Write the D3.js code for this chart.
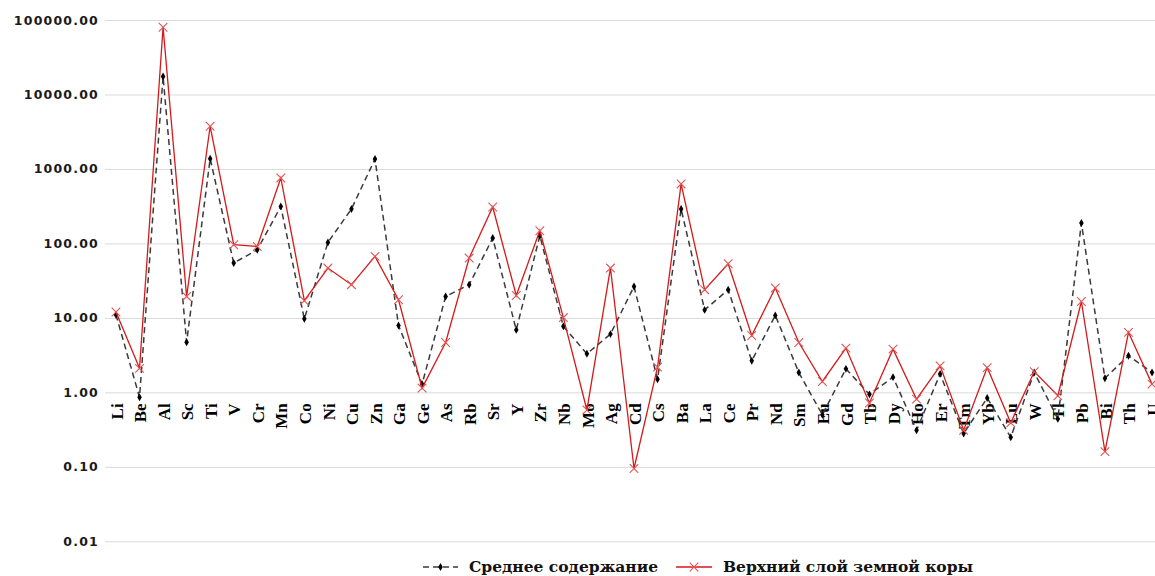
<!DOCTYPE html>
<html>
<head>
<meta charset="utf-8">
<script src="https://cdn.jsdelivr.net/npm/d3@7"></script>
<style>
  html, body { margin: 0; padding: 0; background: #fff; }
  svg { display: block; }
</style>
</head>
<body>
<svg id="chart" width="1155" height="576"></svg>
<script>
// Elements along the category axis
const elements = ["Li","Be","Al","Sc","Ti","V","Cr","Mn","Co","Ni","Cu","Zn","Ga","Ge","As","Rb","Sr","Y","Zr","Nb",
  "Mo","Ag","Cd","Cs","Ba","La","Ce","Pr","Nd","Sm","Eu","Gd","Tb","Dy","Ho","Er","Tm","Yb","Lu","W","Tl","Pb","Bi","Th","U"];

// Среднее содержание (mean content)
const meanContent = [11, 0.86, 17400, 4.7, 1375, 54.5, 82, 314, 9.7, 103, 290, 1360, 7.9, 1.29, 19.4, 27.9, 118, 6.9, 127, 7.7,
  3.3, 6.06, 26.4, 1.5, 290, 12.8, 23.9, 2.65, 10.8, 1.85, 0.5, 2.07, 0.94, 1.6, 0.31, 1.77, 0.28, 0.84, 0.25, 1.85, 0.44, 188, 1.55, 3.1, 1.85];

// Верхний слой земной коры (upper continental crust)
const upperCrust = [12, 2.1, 80000, 19.4, 3740, 96, 91, 757, 17, 46.7, 27.9, 66.9, 17.5, 1.14, 4.67, 63.6, 308, 20, 148, 10.1,
  0.58, 46.7, 0.095, 2.18, 629, 23.9, 53.3, 5.8, 25.2, 4.67, 1.4, 3.93, 0.72, 3.8, 0.81, 2.27, 0.31, 2.15, 0.39, 1.9, 0.9, 16.6, 0.16, 6.4, 1.29];

// Log-axis tick values
const yTicks = [0.01, 0.1, 1, 10, 100, 1000, 10000, 100000];

const seriesNames = ["Среднее содержание", "Верхний слой земной коры"];

const svg = d3.select("#chart");
const W = 1155;

const x = d3.scalePoint().domain(elements).range([104.2, 1163.8]).padding(0.5);
const y = d3.scaleLog().domain([0.01, 100000]).range([541.3, 20]);

// gridlines + y labels
const yAxis = svg.append("g")
  .attr("transform", "translate(105,0)")
  .call(d3.axisLeft(y).tickValues(yTicks).tickFormat(d3.format(".2f")).tickSize(-(W - 105)).tickPadding(6));
yAxis.select(".domain").remove();
yAxis.selectAll(".tick line").attr("stroke", "#d9d9d9").attr("stroke-width", 1);
yAxis.selectAll(".tick text")
  .attr("fill", "#1a1a1a")
  .style("font-family", "'DejaVu Sans', sans-serif")
  .style("font-weight", "bold")
  .style("font-size", "12.5px")
  .style("letter-spacing", "1.2px");

// category labels, crossing at 1.00
const xAxis = svg.append("g")
  .attr("transform", `translate(0,${y(1)})`)
  .call(d3.axisBottom(x).tickSize(0));
xAxis.select(".domain").remove();
xAxis.selectAll(".tick text")
  .attr("transform", "rotate(-90)")
  .attr("x", -11)
  .attr("y", 0)
  .attr("dy", "0.36em")
  .attr("text-anchor", "end")
  .attr("fill", "#000")
  .style("font-family", "'Liberation Serif', serif")
  .style("font-weight", "bold")
  .style("font-size", "17px");

const line = d3.line().x((d, i) => x(elements[i])).y(d => y(d));

// mean content: dashed dark line with small diamonds
svg.append("path")
  .datum(meanContent)
  .attr("d", line)
  .attr("fill", "none")
  .attr("stroke", "#3a3a3a")
  .attr("stroke-width", 1.5)
  .attr("stroke-dasharray", "6,4");

const diamond = d3.symbol().type(d3.symbolDiamond).size(18);
svg.append("g").selectAll("path")
  .data(meanContent)
  .join("path")
  .attr("d", diamond)
  .attr("transform", (d, i) => `translate(${x(elements[i])},${y(d)})`)
  .attr("fill", "#000");

// upper crust: solid red line with × markers
svg.append("path")
  .datum(upperCrust)
  .attr("d", line)
  .attr("fill", "none")
  .attr("stroke", "#d41a1a")
  .attr("stroke-width", 1.3);

const cross = d3.symbol().type(d3.symbolX).size(50);
svg.append("g").selectAll("path")
  .data(upperCrust)
  .join("path")
  .attr("d", cross)
  .attr("transform", (d, i) => `translate(${x(elements[i])},${y(d)})`)
  .attr("fill", "none")
  .attr("stroke", "#e05555")
  .attr("stroke-width", 1.1);

// legend
const legY = 567;
const leg = svg.append("g");
leg.append("line").attr("x1", 423).attr("x2", 458).attr("y1", legY).attr("y2", legY)
  .attr("stroke", "#3a3a3a").attr("stroke-width", 1.5).attr("stroke-dasharray", "6,4");
leg.append("path").attr("d", diamond).attr("transform", `translate(440.5,${legY})`).attr("fill", "#000");
leg.append("text").attr("x", 469).attr("y", legY).attr("dy", "0.35em").text(seriesNames[0]);

leg.append("line").attr("x1", 676).attr("x2", 712).attr("y1", legY).attr("y2", legY)
  .attr("stroke", "#d41a1a").attr("stroke-width", 1.3);
leg.append("path").attr("d", cross).attr("transform", `translate(694,${legY})`)
  .attr("fill", "none").attr("stroke", "#e05555").attr("stroke-width", 1.1);
leg.append("text").attr("x", 723).attr("y", legY).attr("dy", "0.35em").text(seriesNames[1]);

leg.selectAll("text")
  .attr("fill", "#111")
  .style("font-family", "'DejaVu Serif', serif")
  .style("font-weight", "bold")
  .style("font-size", "15.5px");
</script>
</body>
</html>
